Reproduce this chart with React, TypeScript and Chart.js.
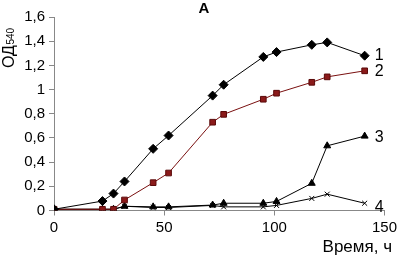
import React, { useEffect, useRef } from "react";
import { Chart, registerables } from "chart.js";

Chart.register(...registerables);

const times = [0, 22, 27, 32, 45, 52, 72, 77, 95, 101, 117, 124, 141];
const series1 = [0.01, 0.078, 0.14, 0.24, 0.51, 0.62, 0.95, 1.04, 1.27, 1.31, 1.37, 1.39, 1.28];
const series2 = [0.01, 0.01, 0.01, 0.087, 0.23, 0.31, 0.73, 0.795, 0.92, 0.97, 1.06, 1.105, 1.155];
const series3 = [0.01, 0.01, 0.01, 0.035, 0.03, 0.03, 0.045, 0.06, 0.06, 0.075, 0.225, 0.535, 0.615];
const series4 = [0.01, 0.01, 0.01, 0.035, 0.025, 0.025, 0.042, 0.03, 0.03, 0.042, 0.1, 0.135, 0.06];
const seriesLabels = ["1", "2", "3", "4"];
const xTicks = [0, 50, 100, 150];
const yTicks = [0, 0.2, 0.4, 0.6, 0.8, 1, 1.2, 1.4, 1.6];
const titleText = "A";
const xTitle = "Время, ч";
const yTitleMain = "ОД";
const yTitleSub = "540";

const FONT = "'Liberation Sans', Arial, sans-serif";

const toPts = (vals: number[]) => vals.map((v, i) => ({ x: times[i], y: v }));

const decorPlugin = {
  id: "decor",
  afterDraw(chart: any) {
    const ctx = chart.ctx;
    ctx.save();
    ctx.fillStyle = "#000";
    // title
    ctx.font = `bold 15px ${FONT}`;
    ctx.textAlign = "center";
    ctx.textBaseline = "middle";
    ctx.fillText(titleText, 204, 8.5);
    // x title
    ctx.font = `17px ${FONT}`;
    ctx.textAlign = "right";
    ctx.textBaseline = "alphabetic";
    ctx.fillText(xTitle, 392, 252);
    // y title
    ctx.save();
    ctx.translate(14, 68);
    ctx.rotate(-Math.PI / 2);
    ctx.textAlign = "left";
    ctx.font = `16px ${FONT}`;
    ctx.fillText(yTitleMain, 0, 0);
    const w = ctx.measureText(yTitleMain).width;
    ctx.font = `10px ${FONT}`;
    ctx.fillText(yTitleSub, w + 0.5, 0);
    ctx.restore();
    // series labels
    ctx.font = `16px ${FONT}`;
    ctx.textAlign = "left";
    ctx.textBaseline = "middle";
    const offs = [0, 1, 1, 4];
    chart.data.datasets.forEach((ds: any, i: number) => {
      const meta = chart.getDatasetMeta(i);
      const pt = meta.data[meta.data.length - 1];
      ctx.fillText(seriesLabels[i], pt.x + 10, pt.y + offs[i]);
    });
    ctx.restore();
  },
};

export default function App() {
  const ref = useRef<HTMLCanvasElement>(null);
  useEffect(() => {
    document.body.style.margin = "0";
    const common = {
      borderWidth: 1,
      pointRadius: 4,
      pointHoverRadius: 4,
      tension: 0,
      fill: false,
    };
    const chart = new Chart(ref.current!, {
      type: "line",
      data: {
        datasets: [
          {
            ...common,
            data: toPts(series1),
            borderColor: "#000",
            backgroundColor: "#000",
            pointBackgroundColor: "#000",
            pointBorderColor: "#000",
            pointStyle: "rectRot",
            pointRadius: 4.5,
          },
          {
            ...common,
            data: toPts(series2),
            borderColor: "#7a1010",
            backgroundColor: "#8b1a1a",
            pointBackgroundColor: "#8b1a1a",
            pointBorderColor: "#5a0a0a",
            pointStyle: "rect",
            pointRadius: 4,
          },
          {
            ...common,
            data: toPts(series3),
            borderColor: "#000",
            pointBackgroundColor: "#000",
            pointBorderColor: "#000",
            pointStyle: "triangle",
            pointRadius: 4,
          },
          {
            ...common,
            data: toPts(series4),
            borderColor: "#000",
            pointBackgroundColor: "#000",
            pointBorderColor: "#000",
            pointStyle: "crossRot",
            pointRadius: 3.5,
            pointBorderWidth: 1,
          },
        ],
      },
      options: {
        animation: false,
        responsive: false,
        maintainAspectRatio: false,
        layout: { padding: { left: 0, right: 13, top: 17, bottom: 0 } },
        plugins: {
          legend: { display: false },
          title: { display: false },
          tooltip: { enabled: false },
        },
        scales: {
          x: {
            type: "linear",
            min: 0,
            max: 150,
            afterFit: (s: any) => {
              s.height = 48.5;
            },
            afterBuildTicks: (s: any) => {
              s.ticks = xTicks.map((v) => ({ value: v }));
            },
            border: { display: true, color: "#888", width: 1 },
            grid: { display: true, drawOnChartArea: false, drawTicks: true, tickLength: 5, color: "#888" },
            ticks: {
              color: "#000",
              font: { family: FONT, size: 15 },
              padding: 3,
              maxRotation: 0,
              callback: (v: any) => String(v),
            },
          },
          y: {
            type: "linear",
            min: 0,
            max: 1.6,
            afterFit: (s: any) => {
              s.width = 54;
            },
            afterBuildTicks: (s: any) => {
              s.ticks = yTicks.map((v) => ({ value: v }));
            },
            border: { display: true, color: "#888", width: 1 },
            grid: { display: true, drawOnChartArea: false, drawTicks: true, tickLength: 5, color: "#888" },
            ticks: {
              color: "#000",
              font: { family: FONT, size: 15 },
              padding: 4,
              callback: (v: any) => String(Math.round(v * 10) / 10).replace(".", ","),
            },
          },
        },
      },
      plugins: [decorPlugin],
    });
    return () => chart.destroy();
  }, []);
  return (
    <div style={{ position: "absolute", left: 0, top: 0, width: 400, height: 259, background: "#fff" }}>
      <canvas ref={ref} width={400} height={259} style={{ width: 400, height: 259 }} />
    </div>
  );
}
